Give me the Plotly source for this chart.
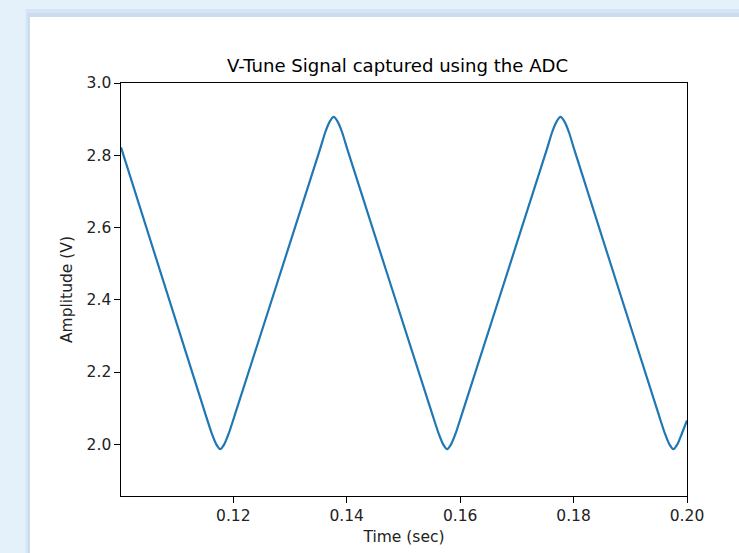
import plotly.graph_objects as go

# Time samples (sec) (triangle wave with rounded tips)
time_s = [
    0.1002,
    0.1152, 0.1162, 0.1170, 0.1177, 0.1184, 0.1192, 0.1202,
    0.1352, 0.1362, 0.1370, 0.1377, 0.1384, 0.1392, 0.1402,
    0.1552, 0.1562, 0.1570, 0.1577, 0.1584, 0.1592, 0.1602,
    0.1752, 0.1762, 0.1770, 0.1777, 0.1784, 0.1792, 0.1802,
    0.1951, 0.1961, 0.1969, 0.1976, 0.1983, 0.1991, 0.2000,
]
# Amplitude (V)
amplitude_v = [
    2.822,
    2.078, 2.030, 2.000, 1.987, 2.000, 2.030, 2.078,
    2.812, 2.863, 2.893, 2.906, 2.893, 2.863, 2.812,
    2.078, 2.030, 2.000, 1.987, 2.000, 2.030, 2.078,
    2.812, 2.863, 2.893, 2.906, 2.893, 2.863, 2.812,
    2.078, 2.030, 2.000, 1.987, 2.000, 2.030, 2.066,
]

x_ticks = [0.12, 0.14, 0.16, 0.18, 0.20]
y_ticks = [2.0, 2.2, 2.4, 2.6, 2.8, 3.0]

FONT = "DejaVu Sans"

fig = go.Figure()
fig.add_trace(go.Scatter(
    x=time_s, y=amplitude_v, mode="lines",
    line=dict(color="#1f77b4", width=2.2, shape="spline", smoothing=0.5),
    showlegend=False, hoverinfo="skip",
))

# page background card + soft shadow
shapes = [
    dict(type="rect", xref="paper", yref="paper", x0=-0.1685, x1=1.3, y0=-0.3, y1=1.1790,
         fillcolor="rgba(190,210,228,0.35)", line=dict(width=0), layer="below"),
    dict(type="rect", xref="paper", yref="paper", x0=-0.1645, x1=1.3, y0=-0.3, y1=1.1695,
         fillcolor="rgba(190,210,228,0.45)", line=dict(width=0), layer="below"),
    dict(type="rect", xref="paper", yref="paper", x0=-0.1608, x1=1.3, y0=-0.3, y1=1.1598,
         fillcolor="white", line=dict(width=0), layer="below"),
]

fig.update_layout(
    width=739, height=553,
    margin=dict(l=121, r=52, t=83, b=57),
    paper_bgcolor="#e4f0fa",
    plot_bgcolor="white",
    font=dict(family=FONT, size=15.5, color="black"),
    shapes=shapes,
    title=dict(text="V-Tune Signal captured using the ADC", x=0.538, xanchor="center",
               xref="container", yref="container", y=0.8807, yanchor="middle",
               font=dict(family=FONT, size=18.1, color="black")),
)

fig.update_xaxes(
    range=[0.1002, 0.2], tickvals=x_ticks, tickformat=".2f",
    showgrid=False, zeroline=False,
    showline=True, linecolor="black", linewidth=1.3, mirror=True,
    ticks="outside", ticklen=5.5, tickwidth=1.3, tickcolor="black",
    tickfont=dict(family=FONT, size=15.5, color="#222"),
    title=dict(text="Time (sec)", standoff=6, font=dict(family=FONT, size=15.5, color="#222")),
)
fig.update_yaxes(
    range=[1.857, 3.0], tickvals=y_ticks, tickformat=".1f",
    showgrid=False, zeroline=False,
    showline=True, linecolor="black", linewidth=1.3, mirror=True,
    ticks="outside", ticklen=5.5, tickwidth=1.3, tickcolor="black",
    tickfont=dict(family=FONT, size=15.5, color="#222"),
    title=dict(text="Amplitude (V)", standoff=10, font=dict(family=FONT, size=15.5, color="#222")),
)

fig.write_html("out.html")
